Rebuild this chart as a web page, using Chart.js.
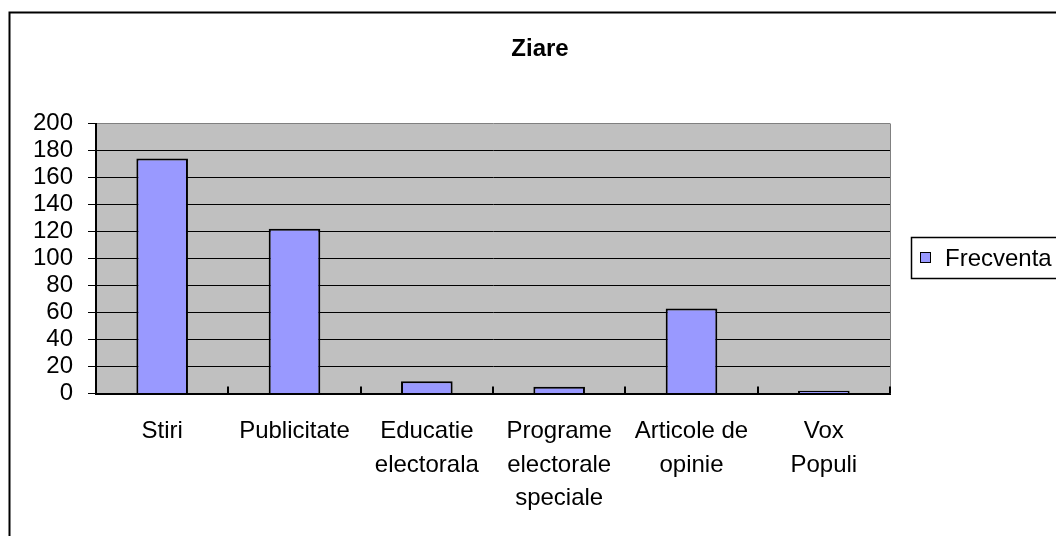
<!DOCTYPE html>
<html>
<head>
<meta charset="utf-8">
<title>Ziare</title>
<script src="https://cdn.jsdelivr.net/npm/chart.js@4.4.1/dist/chart.umd.min.js"></script>
<style>
    body { margin: 0; background: #fff; }
    #wrap { width: 1056px; height: 536px; position: relative; }
</style>
</head>
<body>
<div id="wrap"><canvas id="myChartZiare"></canvas></div>
<script>
//DATA
const chartTitle = 'Ziare';
const seriesName = 'Frecventa';
const categories = [
    ['Stiri'],
    ['Publicitate'],
    ['Educatie', 'electorala'],
    ['Programe', 'electorale', 'speciale'],
    ['Articole de', 'opinie'],
    ['Vox', 'Populi']
];
const frecventa = [174, 122, 9, 5, 63, 2];
const yTicks = [0, 20, 40, 60, 80, 100, 120, 140, 160, 180, 200];

const fontFamily = "'Liberation Sans', Arial, sans-serif";
const barColor = '#9999ff';


//BACKGROUND, FRAME, TITLE AND LEGEND (EXCEL LOOK)
const excelLook = {
    id: 'excelLook',
    beforeDraw: (chart) => {
        const ctx = chart.ctx;
        const area = chart.chartArea;
        ctx.save();
        ctx.fillStyle = '#ffffff';
        ctx.fillRect(0, 0, chart.width, chart.height);
        // plot area gray
        ctx.fillStyle = '#c0c0c0';
        ctx.fillRect(area.left, area.top, area.right - area.left, area.bottom - area.top);
        ctx.restore();
    },
    afterDraw: (chart) => {
        const ctx = chart.ctx;
        const area = chart.chartArea;
        const xScale = chart.scales.x;
        ctx.save();

        // outer frame, right and bottom side run off the page
        ctx.strokeStyle = '#000';
        ctx.lineWidth = 2;
        ctx.strokeRect(9.5, 12.5, 3000, 3000);

        // right border of plot area
        ctx.strokeStyle = '#808080';
        ctx.lineWidth = 1;
        ctx.beginPath();
        ctx.moveTo(area.right + 0.5, area.top);
        ctx.lineTo(area.right + 0.5, area.bottom);
        ctx.stroke();

        // small inner ticks between categories
        ctx.strokeStyle = '#000';
        ctx.lineWidth = 2;
        for (let i = 1; i <= categories.length; i++) {
            const x = Math.round(xScale.getPixelForValue(i - 0.5));
            ctx.beginPath();
            ctx.moveTo(x, area.bottom);
            ctx.lineTo(x, area.bottom - 7);
            ctx.stroke();
        }

        // title
        ctx.fillStyle = '#000';
        ctx.font = 'bold 24px ' + fontFamily;
        ctx.textAlign = 'center';
        ctx.textBaseline = 'middle';
        ctx.fillText(chartTitle, 540, 49);

        // legend
        const ds = chart.data.datasets[0];
        ctx.lineWidth = 1.5;
        ctx.strokeRect(911.5, 237.5, 400, 41);
        ctx.fillStyle = ds.backgroundColor;
        ctx.fillRect(920, 252, 11, 11);
        ctx.lineWidth = 1;
        ctx.strokeRect(920.5, 252.5, 10, 10);
        ctx.fillStyle = '#000';
        ctx.font = '24px ' + fontFamily;
        ctx.textAlign = 'left';
        ctx.fillText(ds.label, 945, 259);

        ctx.restore();
    }
};


const ctx = document.getElementById('myChartZiare');

new Chart(ctx, {
    type: 'bar',
    data: {
        labels: categories,
        datasets: [{
            label: seriesName,
            data: frecventa,
            backgroundColor: barColor,
            borderColor: '#000',
            borderWidth: 2,
            categoryPercentage: 1,
            barPercentage: 0.39
        }]
    },
    options: {
        responsive: true,
        maintainAspectRatio: false,
        animation: false,
        layout: {
            padding: { left: 10, right: 166, top: 123.5, bottom: 0 }
        },
        plugins: {
            legend: { display: false },
            title: { display: false },
            tooltip: { enabled: false }
        },
        scales: {
            x: {
                afterFit: (scale) => { scale.height = 142.5; },
                grid: { display: true, drawOnChartArea: false, drawTicks: false },
                border: { color: '#000', width: 2 },
                ticks: {
                    color: '#000',
                    font: { family: fontFamily, size: 24, lineHeight: 1.4 },
                    padding: 21,
                    autoSkip: false,
                    maxRotation: 0,
                    minRotation: 0
                }
            },
            y: {
                min: yTicks[0],
                max: yTicks[yTicks.length - 1],
                afterFit: (scale) => { scale.width = 86; },
                afterBuildTicks: (scale) => {
                    scale.ticks = yTicks.map(v => ({ value: v }));
                },
                grid: {
                    color: (c) => (c.tick && c.tick.value === 200 ? '#808080' : '#000'),
                    lineWidth: 1,
                    tickLength: 8,
                    tickColor: '#000'
                },
                border: { color: '#000', width: 2 },
                ticks: {
                    color: '#000',
                    font: { family: fontFamily, size: 24 },
                    padding: 15,
                    autoSkip: false
                }
            }
        }
    },
    plugins: [excelLook]
});
</script>
</body>
</html>
